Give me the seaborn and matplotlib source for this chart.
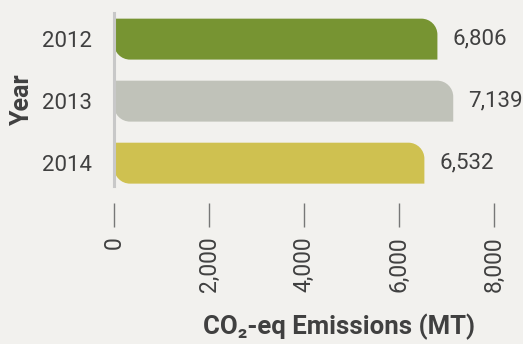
import numpy as np
import pandas as pd
import matplotlib.pyplot as plt
import seaborn as sns
from matplotlib.path import Path
from matplotlib.patches import PathPatch

# data
years = ['2012', '2013', '2014']
emissions = [6806, 7139, 6532]
bar_colors = ['#779432', '#c0c2b9', '#cfc150']
tick_vals = [0, 2000, 4000, 6000, 8000]
tick_labels = ['0', '2,000', '4,000', '6,000', '8,000']

bg = '#f2f1ee'
text_col = '#404040'

df = pd.DataFrame({'Year': years, 'Emissions': emissions})

sns.set_theme(style='white')
plt.rcParams['font.family'] = ['Roboto', 'DejaVu Sans']

fig = plt.figure(figsize=(5.23, 3.44), dpi=100, facecolor=bg)
ax = fig.add_axes([0.218, 0.459, 0.745, 0.503], facecolor=bg)

sns.barplot(data=df, x='Emissions', y='Year', hue='Year', palette=bar_colors,
            width=0.66, saturation=1, legend=False, orient='h', ax=ax)

ax.set_xlim(0, 8200)
ax.set_ylim(2.37, -0.42)


def rounded_bar(p, rad_px=16):
    # top-right and bottom-left corners rounded (y axis is inverted)
    x0, y0 = p.get_x(), p.get_y()
    x1, y1 = x0 + p.get_width(), y0 + p.get_height()
    sx = ax.transData.transform((1, 0))[0] - ax.transData.transform((0, 0))[0]
    sy = abs(ax.transData.transform((0, 1))[1] - ax.transData.transform((0, 0))[1])
    rx, ry = rad_px / sx, rad_px / sy
    k = 0.5523
    verts = [
        (x0, y0),
        (x1 - rx, y0),
        (x1 - rx + k * rx, y0), (x1, y0 + ry - k * ry), (x1, y0 + ry),
        (x1, y1),
        (x0 + rx, y1),
        (x0 + rx - k * rx, y1), (x0, y1 - ry + k * ry), (x0, y1 - ry),
        (x0, y0),
    ]
    codes = [Path.MOVETO, Path.LINETO,
             Path.CURVE4, Path.CURVE4, Path.CURVE4,
             Path.LINETO, Path.LINETO,
             Path.CURVE4, Path.CURVE4, Path.CURVE4,
             Path.CLOSEPOLY]
    return PathPatch(Path(verts, codes), facecolor=p.get_facecolor(),
                     edgecolor='none', zorder=2)


for p in list(ax.patches):
    ax.add_patch(rounded_bar(p))
    p.set_visible(False)

for c in ax.containers:
    ax.bar_label(c, fmt='{:,.0f}', padding=11, fontsize=16, color=text_col)

sns.despine(ax=ax, top=True, right=True, bottom=True)
ax.spines['left'].set_color('#c8c8c8')
ax.spines['left'].set_linewidth(2.2)
ax.spines['bottom'].set_position(('outward', 12))

ax.set_xticks(tick_vals)
ax.set_xticklabels(tick_labels)
ax.tick_params(axis='x', direction='out', length=17.5, width=1.0, color='#777777',
               pad=6.5, labelrotation=90, labelsize=16.5, labelcolor=text_col, bottom=True)
ax.tick_params(axis='y', length=0, pad=16, labelsize=16, labelcolor=text_col)

ax.set_xlabel('CO\u2082-eq Emissions (MT)', fontsize=18.5, fontweight='bold', color=text_col)
ax.set_ylabel('Year', fontsize=18, fontweight='bold', color=text_col)
ax.xaxis.set_label_coords(0.578, -0.74)
ax.yaxis.set_label_coords(-0.205, 0.5)

fig.savefig('out.png', dpi=100, facecolor=bg)
